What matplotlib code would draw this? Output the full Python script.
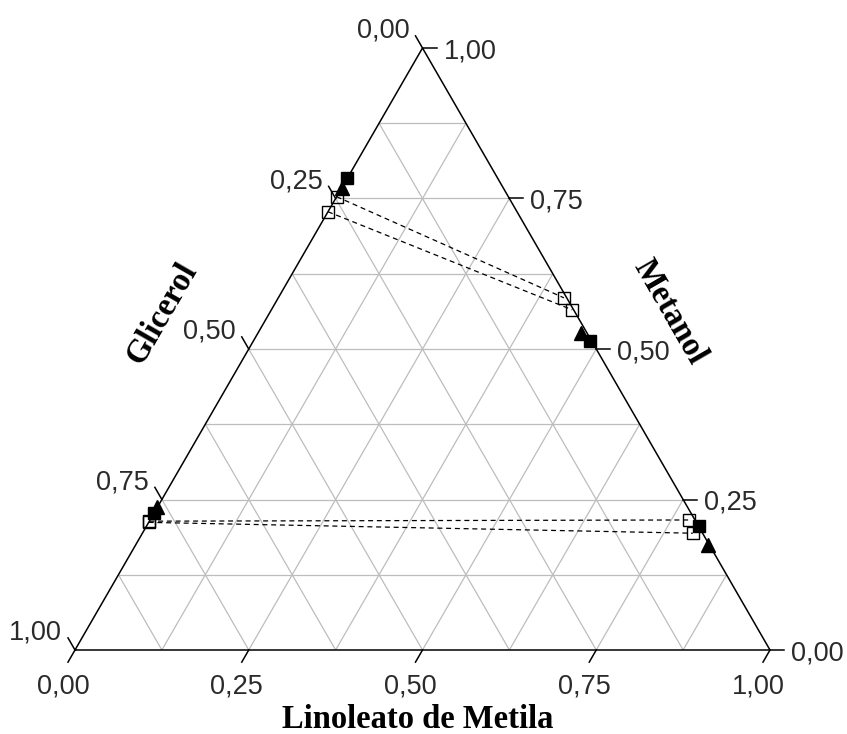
import numpy as np
import matplotlib
matplotlib.use("Agg")
import matplotlib.pyplot as plt

# Mass fractions: linoleato de metila (L) and metanol (M); glicerol = 1 - L - M
# Open squares joined by dashed tie lines: glycerol-rich phase -> ester-rich phase
tie_glyc_L = [0.000, 0.000, 0.000, 0.000]
tie_glyc_M = [0.753, 0.728, 0.214, 0.212]
tie_ester_L = [0.411, 0.433, 0.776, 0.792]
tie_ester_M = [0.585, 0.565, 0.216, 0.194]

# Filled squares
sq_L = [0.000, 0.484, 0.000, 0.795]
sq_M = [0.784, 0.513, 0.228, 0.206]

# Filled triangles
tri_L = [0.000, 0.464, 0.000, 0.823]
tri_M = [0.768, 0.527, 0.237, 0.175]

tick_values = [0.00, 0.25, 0.50, 0.75, 1.00]
tick_labels = ["0,00", "0,25", "0,50", "0,75", "1,00"]
grid_values = [0.125, 0.25, 0.375, 0.5, 0.625, 0.75, 0.875]

H = np.sqrt(3) / 2


def cart(L, M):
    L = np.asarray(L, dtype=float)
    M = np.asarray(M, dtype=float)
    return L + M / 2, M * H


W, HPX = 847, 734
fig = plt.figure(figsize=(W / 100, HPX / 100), dpi=100)
fig.patch.set_facecolor("white")
ax = fig.add_axes([75 / W, 84 / HPX, 695 / W, 602 / HPX])
ax.set_xlim(0, 1)
ax.set_ylim(0, H)
ax.axis("off")

px = 1 / 695.0  # one pixel in data units
tick_font = dict(family="Liberation Sans", fontsize=19.5, color="#2a2a2a")
title_font = dict(family="Liberation Serif", fontweight="bold", fontsize=23.5, color="black")

grid_kw = dict(color="#bdbdbd", lw=0.9, zorder=1, solid_capstyle="butt")
for v in grid_values:
    # constant metanol
    x, y = cart([0, 1 - v], [v, v])
    ax.plot(x, y, **grid_kw)
    # constant linoleato
    x, y = cart([v, v], [0, 1 - v])
    ax.plot(x, y, **grid_kw)
    # constant glicerol
    x, y = cart([1 - v, 0], [0, 1 - v])
    ax.plot(x, y, **grid_kw)

# triangle outline
x, y = cart([0, 1, 0, 0], [0, 0, 1, 0])
ax.plot(x, y, color="black", lw=1.1, zorder=3, clip_on=False)

tl = 14 * px
line_kw = dict(color="black", lw=1.1, clip_on=False, zorder=3)
for v, lab in zip(tick_values, tick_labels):
    # bottom axis: linoleato
    x0, y0 = cart(v, 0)
    x1, y1 = x0 - 0.5 * tl, y0 - H * tl
    ax.plot([x0, x1], [y0, y1], **line_kw)
    ax.text(x1 - 5 * px, y1 - 31 * px, lab, ha="center", va="baseline", **tick_font)
    # right axis: metanol
    x0, y0 = cart(1 - v, v)
    x1, y1 = x0 + tl, y0
    ax.plot([x0, x1], [y0, y1], **line_kw)
    ax.text(x1 + 7 * px, y1 - 10 * px, lab, ha="left", va="baseline", **tick_font)
    # left axis: glicerol
    x0, y0 = cart(0, 1 - v)
    x1, y1 = x0 - 0.5 * tl, y0 + H * tl
    ax.plot([x0, x1], [y0, y1], **line_kw)
    ax.text(x1 - 6 * px, y1 - 2 * px, lab, ha="right", va="baseline", **tick_font)

# tie lines
for gl, gm, el, em in zip(tie_glyc_L, tie_glyc_M, tie_ester_L, tie_ester_M):
    x, y = cart([gl, el], [gm, em])
    ax.plot(x, y, color="black", lw=0.9, ls=(0, (4, 3)), zorder=4, clip_on=False)

x, y = cart(sq_L, sq_M)
ax.plot(x, y, ls="none", marker="s", ms=8.4, mfc="black", mec="black", zorder=5, clip_on=False)
x, y = cart(tri_L, tri_M)
ax.plot(x, y, ls="none", marker="^", ms=10.5, mfc="black", mec="black", zorder=6, clip_on=False)
x, y = cart(tie_glyc_L + tie_ester_L, tie_glyc_M + tie_ester_M)
ax.plot(x, y, ls="none", marker="s", ms=8.8, mfc="none", mec="black", mew=1.0, zorder=7, clip_on=False)

# axis titles
ax.text((418 - 75) * px, (650 - 728) * px, "Linoleato de Metila", ha="center", va="baseline", **title_font)
ax.text((162 - 75) * px, (650 - 313) * px, "Glicerol", ha="center", va="center", rotation=60,
        rotation_mode="anchor", **title_font)
ax.text((670 - 75) * px, (650 - 312) * px, "Metanol", ha="center", va="center", rotation=-60,
        rotation_mode="anchor", **title_font)

fig.savefig("out.png", dpi=100, facecolor="white")
